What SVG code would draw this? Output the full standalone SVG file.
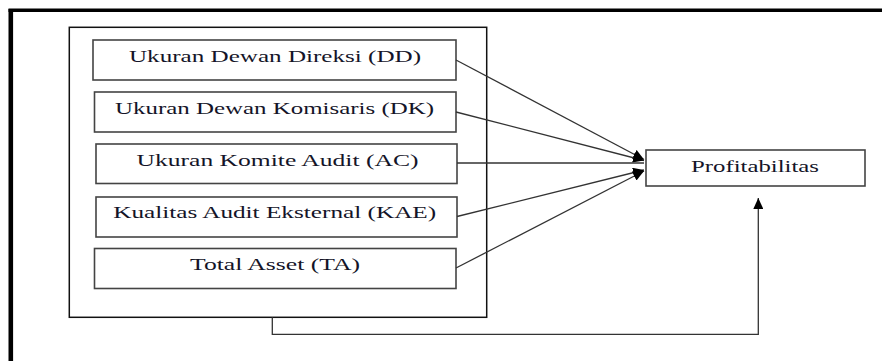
<svg xmlns="http://www.w3.org/2000/svg" width="882" height="361" viewBox="0 0 882 361">
<style>
.node rect{fill:#fff;stroke:#444;stroke-width:1.6}
.node text{font-family:"Liberation Serif","Times New Roman",serif;font-size:17.5px;fill:#141428;text-anchor:middle}
.conn{fill:none;stroke:#333;stroke-width:1.3}
</style>
<defs>
<marker id="ah" markerUnits="userSpaceOnUse" markerWidth="12" markerHeight="10" refX="11" refY="5" orient="auto">
<path d="M0,0 L11,5 L0,10 Z" fill="#000"/>
</marker>
</defs>
<rect width="882" height="361" fill="#fff"/>
<g id="frame">
<path d="M8.5,10.3 H882" stroke="#000" stroke-width="3.4" fill="none"/>
<path d="M10.8,9 V361" stroke="#000" stroke-width="4.6" fill="none"/>
</g>
<g id="container">
<rect x="69.3" y="27.3" width="417.4" height="290" fill="none" stroke="#111" stroke-width="1.5"/>
</g>
<g id="dd" class="node">
<rect x="93" y="40" width="363" height="40"/>
<text x="275" y="62" textLength="292" lengthAdjust="spacingAndGlyphs">Ukuran Dewan Direksi (DD)</text>
</g>
<g id="dk" class="node">
<rect x="94.5" y="92" width="361.5" height="40"/>
<text x="274.5" y="113.5" textLength="319" lengthAdjust="spacingAndGlyphs">Ukuran Dewan Komisaris (DK)</text>
</g>
<g id="ac" class="node">
<rect x="96" y="144" width="361" height="39.5"/>
<text x="277.5" y="165.7" textLength="282" lengthAdjust="spacingAndGlyphs">Ukuran Komite Audit (AC)</text>
</g>
<g id="kae" class="node">
<rect x="96" y="197" width="361" height="40"/>
<text x="274.7" y="218.3" textLength="323" lengthAdjust="spacingAndGlyphs">Kualitas Audit Eksternal (KAE)</text>
</g>
<g id="ta" class="node">
<rect x="94.5" y="248.5" width="361.5" height="40"/>
<text x="275" y="270" textLength="170" lengthAdjust="spacingAndGlyphs">Total Asset (TA)</text>
</g>
<g id="profit" class="node">
<rect x="646" y="150" width="219" height="36"/>
<text x="755" y="171.7" textLength="128" lengthAdjust="spacingAndGlyphs">Profitabilitas</text>
</g>
<g id="connectors">
<path class="conn" d="M456,60 L644,159.5" marker-end="url(#ah)"/>
<path class="conn" d="M456,112 L644,160.5" marker-end="url(#ah)"/>
<path class="conn" d="M457,163 L644,163"/>
<path class="conn" d="M457,216.5 L644,170" marker-end="url(#ah)"/>
<path class="conn" d="M456,268 L644,171" marker-end="url(#ah)"/>
<path class="conn" d="M272.3,317.3 V334.3 H758.3 V198" stroke="#222" marker-end="url(#ah)"/>
</g>
</svg>
